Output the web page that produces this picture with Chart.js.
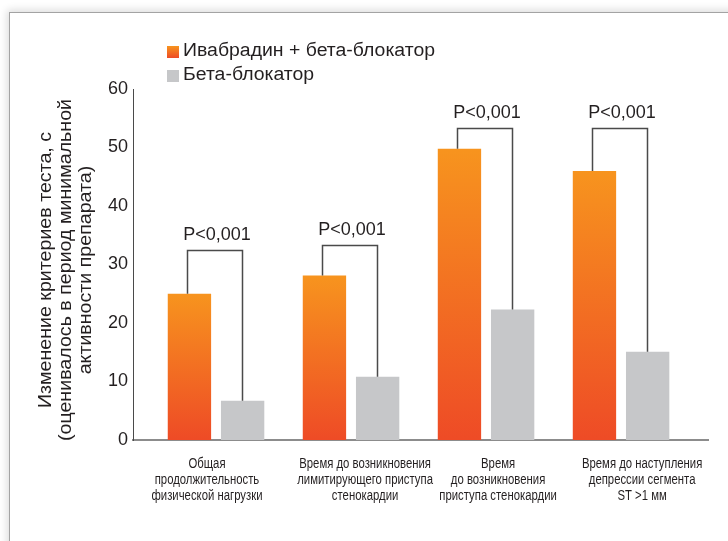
<!DOCTYPE html>
<html><head><meta charset="utf-8">
<script src="https://cdn.jsdelivr.net/npm/chart.js@4/dist/chart.umd.min.js"></script>
<style>
html,body{margin:0;padding:0;background:#fff;}
#wrap{position:relative;width:728px;height:541px;overflow:hidden;background:#fff;}
#frame{position:absolute;left:9px;top:12px;width:800px;height:600px;border-top:1px solid #a3a3a3;border-left:1px solid #a3a3a3;box-shadow:-2px -2px 8px rgba(0,0,0,0.14);background:#fff;}
canvas{position:absolute;left:0;top:0;}
</style></head>
<body><div id="wrap"><div id="frame"></div><canvas id="c" width="728" height="541"></canvas></div>
<script>
const categories = [
  ["Общая", "продолжительность", "физической нагрузки"],
  ["Время до возникновения", "лимитирующего приступа", "стенокардии"],
  ["Время", "до возникновения", "приступа стенокардии"],
  ["Время до наступления", "депрессии сегмента", "ST >1 мм"]
];
const seriesNames = ["Ивабрадин + бета-блокатор", "Бета-блокатор"];
const ivabradineValues = [25.0, 28.1, 49.8, 46.0];
const betaBlockerValues = [6.7, 10.8, 22.3, 15.1];
const bracketLevels = [32.4, 33.4, 53.4, 53.4];
const pLabels = ["P<0,001", "P<0,001", "P<0,001", "P<0,001"];
const yTicks = [0, 10, 20, 30, 40, 50, 60];
const yTitle = ["Изменение критериев теста, с", "(оценивалось в период минимальной", "активности препарата)"];

const FONT = "'Liberation Sans', Arial, sans-serif";
const TEXT = '#231f20';
const labelOffsets = [-0.067, 1.104, 2.089, 3.156];

function orangeFill(c) {
  const chart = c.chart, ys = chart.scales.y;
  if (c.type !== 'data' || !ys) return '#f47a20';
  const v = c.parsed ? c.parsed.y : ivabradineValues[c.dataIndex];
  const top = ys.getPixelForValue(v), bot = ys.getPixelForValue(0);
  if (!isFinite(top) || !isFinite(bot) || top === bot) return '#f47a20';
  const g = chart.ctx.createLinearGradient(0, top, 0, bot);
  g.addColorStop(0, '#F7941E');
  g.addColorStop(1, '#EE4B26');
  return g;
}

function stretchedText(ctx, text, x, y, sx) {
  ctx.save();
  ctx.translate(x, y);
  ctx.scale(sx, 1);
  ctx.fillText(text, 0, 0);
  ctx.restore();
}

const overlay = {
  id: 'overlay',
  afterDatasetsDraw(chart) {
    const ctx = chart.ctx, ys = chart.scales.y;
    const m0 = chart.getDatasetMeta(0), m1 = chart.getDatasetMeta(1);
    ctx.save();
    ctx.strokeStyle = '#4a4a4a';
    ctx.lineWidth = 1.5;
    ctx.fillStyle = TEXT;
    ctx.font = "18px " + FONT;
    ctx.textAlign = 'center';
    ctx.textBaseline = 'middle';
    for (let i = 0; i < bracketLevels.length; i++) {
      const a = m0.data[i], b = m1.data[i];
      const yt = Math.round(ys.getPixelForValue(bracketLevels[i])) + 0.5;
      const ax = Math.round(a.x) - 1.5, bx = Math.round(b.x) - 0.5;
      ctx.beginPath();
      ctx.moveTo(ax, a.y);
      ctx.lineTo(ax, yt);
      ctx.lineTo(bx, yt);
      ctx.lineTo(bx, b.y);
      ctx.stroke();
      ctx.fillText(pLabels[i], (ax + bx) / 2 + 2, yt - 15);
    }
    ctx.restore();
  },
  afterDraw(chart) {
    const ctx = chart.ctx, xs = chart.scales.x;
    ctx.save();
    ctx.fillStyle = TEXT;
    ctx.textBaseline = 'middle';
    // x category labels (narrow)
    ctx.font = "14px " + FONT;
    ctx.textAlign = 'center';
    categories.forEach((lines, i) => {
      const px = xs.getPixelForTick(i);
      lines.forEach((t, j) => stretchedText(ctx, t, px, chart.chartArea.bottom + 24 + j * 16, 0.81));
    });
    // legend
    const lg = ctx.createLinearGradient(0, 46, 0, 58);
    lg.addColorStop(0, '#F7941E'); lg.addColorStop(1, '#EE4B26');
    ctx.fillStyle = lg;
    ctx.fillRect(167, 46, 12, 12);
    ctx.fillStyle = '#C6C7C9';
    ctx.fillRect(167, 70, 12, 12);
    ctx.fillStyle = TEXT;
    ctx.font = "18px " + FONT;
    ctx.textAlign = 'left';
    stretchedText(ctx, seriesNames[0], 183, 51, 1.08);
    stretchedText(ctx, seriesNames[1], 183, 75, 1.08);
    // y title
    ctx.translate(0, 270);
    ctx.rotate(-Math.PI / 2);
    ctx.textAlign = 'center';
    const xsT = [46, 66, 86];
    yTitle.forEach((t, i) => stretchedText(ctx, t, 0, xsT[i], 1.09));
    ctx.restore();
  }
};

new Chart(document.getElementById('c'), {
  type: 'bar',
  data: {
    datasets: [
      { label: seriesNames[0], data: ivabradineValues.map((v, i) => ({ x: i, y: v })), backgroundColor: orangeFill, borderWidth: 0 },
      { label: seriesNames[1], data: betaBlockerValues.map((v, i) => ({ x: i, y: v })), backgroundColor: '#C6C7C9', borderWidth: 0 }
    ]
  },
  options: {
    responsive: false,
    animation: false,
    devicePixelRatio: 1,
    categoryPercentage: 0.8,
    barPercentage: 0.815,
    layout: { padding: { left: 0, right: 20, top: 89, bottom: 21 } },
    plugins: { legend: { display: false }, tooltip: { enabled: false } },
    scales: {
      x: {
        type: 'linear', min: -0.615, max: 3.644, offset: false,
        grid: { display: false, drawTicks: false },
        border: { display: true, color: '#8c8c8c', width: 2 },
        afterBuildTicks: s => { s.ticks = labelOffsets.map(v => ({ value: v })); },
        afterFit: s => { s.height = 80; },
        ticks: { display: false, autoSkip: false, maxRotation: 0, minRotation: 0 }
      },
      y: {
        min: 0, max: 60,
        afterBuildTicks: s => { s.ticks = yTicks.map(v => ({ value: v })); },
        afterFit: s => { s.width = 133; },
        grid: { display: false, drawTicks: false },
        border: { display: true, color: '#4a4a4a', width: 1 },
        ticks: { padding: 5, color: TEXT, font: { family: FONT, size: 18 } }
      }
    }
  },
  plugins: [overlay]
});
</script>
</body></html>
